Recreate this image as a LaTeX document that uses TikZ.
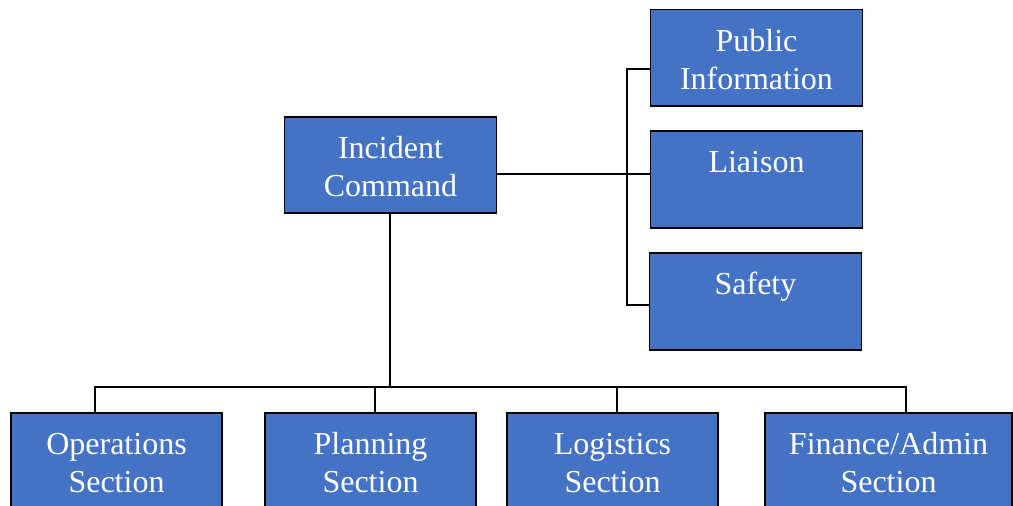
\documentclass[tikz,border=0pt]{standalone}
\usepackage{fontspec}
\setmainfont{Liberation Serif}
\definecolor{boxblue}{HTML}{4472C4}
\newcommand{\twoline}[2]{\raisebox{-11pt}[0pt][0pt]{\begin{tabular}{@{}c@{}}#1\\#2\end{tabular}}}
\begin{document}
\begin{tikzpicture}[x=1pt,y=-1pt,
  orgbox/.style={draw=black, line width=1.6pt, fill=boxblue, text=white,
    minimum height=96.5pt, inner sep=0pt,
    font=\fontsize{32}{38}\selectfont},
  link/.style={draw=black, line width=1.5pt}]
\clip (0,0) rectangle (1013,506);
\fill[white] (0,0) rectangle (1013,506);
% nodes
\node[orgbox, minimum width=212pt] (ic)  at (390.5,165)  {\twoline{Incident}{Command}};
\node[orgbox, minimum width=212pt] (pi)  at (756.5,57.75) {\twoline{Public}{Information}};
\node[orgbox, minimum width=212pt] (lia) at (756.5,179.5) {\twoline{Liaison}{~}};
\node[orgbox, minimum width=212pt] (saf) at (755.5,301.5) {\twoline{Safety}{~}};
\node[orgbox, minimum width=211pt] (ops) at (116.5,461) {\twoline{Operations}{Section}};
\node[orgbox, minimum width=211pt] (pla) at (370.5,461) {\twoline{Planning}{Section}};
\node[orgbox, minimum width=211pt] (log) at (612.5,461) {\twoline{Logistics}{Section}};
\node[orgbox, minimum width=247pt] (fin) at (888.5,461) {\twoline{Finance/Admin}{Section}};
% junction coordinates
\coordinate (vtop) at (627,69);
\coordinate (vmid) at (627,174);
\coordinate (vbot) at (627,305);
\coordinate (bus)  at (390,387);
\coordinate (busL) at (95,387);
\coordinate (busR) at (906,387);
% connectors
\draw[link] (ic.east |- vmid) -- (lia.west |- vmid);
\draw[link] (pi.west |- vtop) -- (vtop) -- (vbot) -- (saf.west |- vbot);
\draw[link] (ic.south -| bus) -- (bus);
\draw[link] (ops.north -| busL) -- (busL) -- (busR) -- (fin.north -| busR);
\draw[link] (pla.north -| 375,0) -- (375,387);
\draw[link] (log.north -| 617,0) -- (617,387);
\end{tikzpicture}
\end{document}
